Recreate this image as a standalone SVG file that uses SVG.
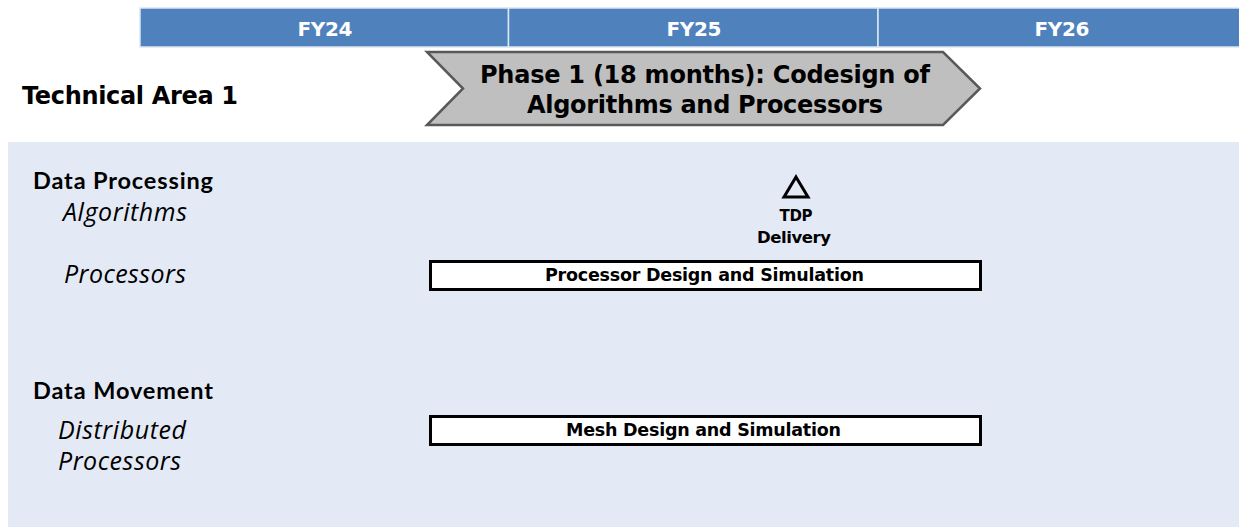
<svg xmlns="http://www.w3.org/2000/svg" width="1239" height="527" viewBox="0 0 1239 527">
  <style>
    .hdr { fill: #4F81BD; stroke: #DCE6F2; stroke-width: 1.5; }
    .hdrtxt { font-family: "DejaVu Sans", "Liberation Sans", sans-serif; font-weight: bold; font-size: 20px; fill: #FFFFFF; text-anchor: middle; }
    .b { font-family: "DejaVu Sans", "Liberation Sans", sans-serif; font-weight: bold; fill: #000000; }
    .sec { font-family: Lato, "DejaVu Sans", sans-serif; font-weight: bold; font-size: 23.5px; fill: #000000; }
    .i { font-family: "Open Sans", "DejaVu Sans", sans-serif; font-style: italic; font-size: 25px; fill: #000000; }
    .bar { fill: #FFFFFF; stroke: #000000; stroke-width: 3; }
    .bartxt { font-size: 17.5px; text-anchor: middle; }
  </style>

  <!-- fiscal year header -->
  <g id="timeline">
    <rect class="hdr" x="140" y="8" width="368.5" height="39"/>
    <rect class="hdr" x="508.5" y="8" width="369.5" height="39"/>
    <rect class="hdr" x="878" y="8" width="362" height="39"/>
    <text class="hdrtxt" x="325" y="36" textLength="55">FY24</text>
    <text class="hdrtxt" x="694" y="36" textLength="55">FY25</text>
    <text class="hdrtxt" x="1062" y="36" textLength="55">FY26</text>
  </g>

  <!-- phase chevron -->
  <g id="phase1">
    <polygon points="427,52 943,52 980,88.5 943,125 427,125 463,88.5" fill="#BFBFBF" stroke="#595959" stroke-width="2.5" stroke-linejoin="miter"/>
    <text class="b" font-size="24" text-anchor="middle" x="705" y="83" textLength="450">Phase 1 (18 months): Codesign of</text>
    <text class="b" font-size="24" text-anchor="middle" x="705" y="113" textLength="356">Algorithms and Processors</text>
  </g>

  <g id="ta1-title">
    <text class="b" font-size="24" x="22" y="104" textLength="216">Technical Area 1</text>
  </g>

  <!-- swimlane background -->
  <rect id="panel" x="8" y="142" width="1231" height="385" fill="#E4EAF5"/>

  <g id="data-processing">
    <text class="sec" x="33" y="189" textLength="180">Data Processing</text>
    <text class="i" x="63" y="221" textLength="124">Algorithms</text>
    <text class="i" x="64" y="283" textLength="122">Processors</text>
  </g>

  <g id="tdp-milestone">
    <polygon points="796,177 808,197 784,197" fill="none" stroke="#000000" stroke-width="3" stroke-linejoin="miter"/>
    <text class="b" font-size="15" text-anchor="middle" x="796" y="221" textLength="33">TDP</text>
    <text class="b" font-size="16.5" text-anchor="middle" x="794" y="243" textLength="74">Delivery</text>
  </g>

  <g id="processor-design">
    <rect class="bar" x="430.5" y="261.5" width="550" height="28"/>
    <text class="b bartxt" x="704.5" y="281" textLength="319">Processor Design and Simulation</text>
  </g>

  <g id="data-movement">
    <text class="sec" x="33" y="399" textLength="180">Data Movement</text>
    <text class="i" x="58" y="439" textLength="128">Distributed</text>
    <text class="i" x="58" y="470" textLength="123">Processors</text>
  </g>

  <g id="mesh-design">
    <rect class="bar" x="430.5" y="416.5" width="550" height="28"/>
    <text class="b bartxt" x="703.5" y="436" textLength="275">Mesh Design and Simulation</text>
  </g>
</svg>
